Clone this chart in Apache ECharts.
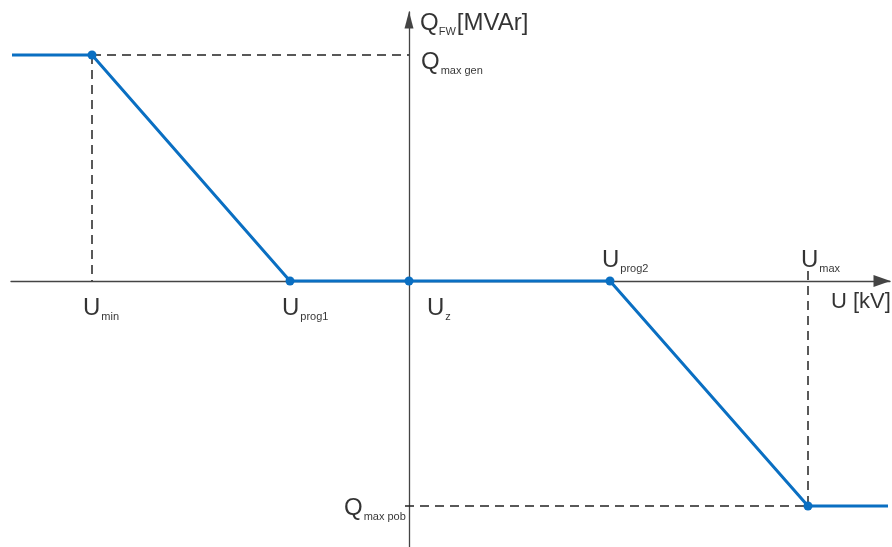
<!DOCTYPE html>
<html>
<head>
<meta charset="utf-8">
<script src="https://cdn.jsdelivr.net/npm/echarts@6/dist/echarts.min.js"></script>
<style>
  html, body { margin: 0; padding: 0; background: #fff; }
  #chart { width: 892px; height: 547px; }
</style>
</head>
<body>
<div id="chart"></div>
<script>
// characteristic points (U in axis units, Uz = 0)
const uNames = ['min', 'prog1', 'z', 'prog2', 'max']
const uValues = [-3.17, -1.19, 0, 2.01, 3.99]
const qNames = ['max gen', 'max pob']
const qValues = [2.26, -2.25]
const lineEnds = [-3.97, 4.79]

const [uMin, uProg1, uZ, uProg2, uMax] = uValues
const [qGen, qPob] = qValues

const blue = '#0a6fc2'
const ink = '#222'
const font = '"Liberation Sans", Arial, sans-serif'

const rich = {
  u: { fontSize: 24, lineHeight: 28, fontFamily: font, color: '#000' },
  k: { fontSize: 22, lineHeight: 28, fontFamily: font, color: '#000' },
  s: { fontSize: 11, lineHeight: 28, fontFamily: font, color: '#000', verticalAlign: 'bottom', padding: [0, 0, 0, 1] },
  f: { fontSize: 11, lineHeight: 28, fontFamily: font, color: '#000', verticalAlign: 'bottom', padding: [0, 1, 0, 0] }
}

// label offsets (px from anchor)
const uLabelPos = [[-9, 13], [-8, 13], [18, 13], [-8, -35], [-7, -35]]

const chart = echarts.init(document.getElementById('chart'))

const curve = [
  { value: [lineEnds[0], qGen], symbol: 'none' },
  [uMin, qGen],
  [uProg1, 0],
  [uZ, 0],
  [uProg2, 0],
  [uMax, qPob],
  { value: [lineEnds[1], qPob], symbol: 'none' }
]

const dashed = (pts) => ({
  type: 'line',
  data: pts,
  symbol: 'none',
  silent: true,
  z: 1,
  lineStyle: { color: ink, width: 1.5, type: [9, 6] }
})

const axisStyle = (size) => ({
  onZero: true,
  symbol: ['none', 'triangle'],
  symbolSize: size,
  symbolOffset: [0, -8],
  lineStyle: { color: '#444', width: 1.3 }
})

chart.setOption({
  animation: false,
  grid: { left: 11, right: 2, top: 12, bottom: 0 },
  xAxis: {
    type: 'value',
    min: -3.98,
    max: 4.81,
    axisLine: axisStyle([12, 17]),
    axisTick: { show: false },
    axisLabel: { show: false },
    splitLine: { show: false }
  },
  yAxis: {
    type: 'value',
    min: -2.66,
    max: 2.69,
    axisLine: axisStyle([9, 17]),
    axisTick: { show: false },
    axisLabel: { show: false },
    splitLine: { show: false }
  },
  series: [
    dashed([[uMin, qGen], [0, qGen]]),
    dashed([[uMin, qGen], [uMin, 0]]),
    dashed([[uMax, 0.1], [uMax, qPob]]),
    dashed([[-0.04, qPob], [uMax, qPob]]),
    {
      type: 'line',
      data: curve,
      z: 3,
      symbol: 'circle',
      symbolSize: 9,
      itemStyle: { color: blue },
      lineStyle: { color: blue, width: 3 }
    },
    {
      type: 'scatter',
      symbolSize: 0,
      silent: true,
      z: 4,
      label: { color: '#000' },
      data: uValues.map((u, i) => ({
        value: [u, 0],
        label: {
          show: true,
          color: '#000',
          position: uLabelPos[i],
          formatter: '{u|U}{s|' + uNames[i] + '}',
          rich
        }
      })).concat(qValues.map((q, i) => ({
        value: [0, q],
        label: {
          show: true,
          color: '#000',
          position: i === 0 ? [12, -7] : [-65, -12],
          formatter: '{u|Q}{s|' + qNames[i] + '}',
          rich
        }
      }))).concat([
        {
          value: [0, 2.69],
          label: { show: true, color: '#000', position: [11, -3], formatter: '{u|Q}{f|FW}{u|[MVAr]}', rich }
        },
        {
          value: [4.81, 0],
          label: { show: true, color: '#000', position: [-59, 7], formatter: '{k|U [kV]}', rich }
        }
      ])
    }
  ]
})
</script>
</body>
</html>
